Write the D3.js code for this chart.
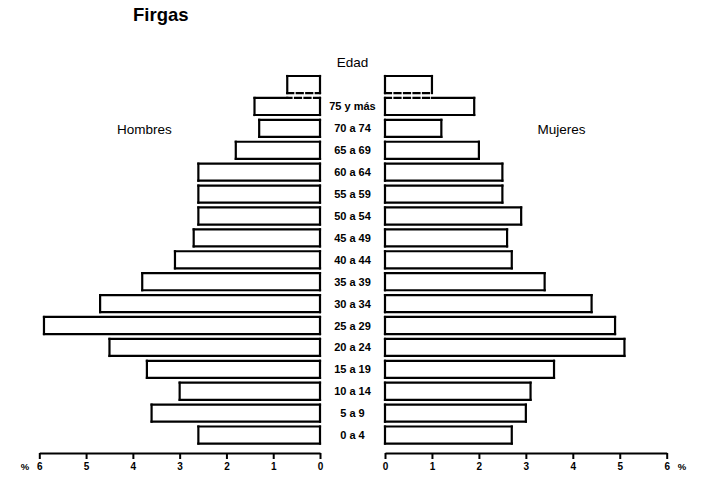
<!DOCTYPE html>
<html>
<head>
<meta charset="utf-8">
<script src="https://cdn.jsdelivr.net/npm/d3@7"></script>
<style>
  html, body { margin: 0; padding: 0; background: #fff; }
  svg { display: block; }
  text { font-family: "Liberation Sans", Arial, sans-serif; fill: #000; }
</style>
</head>
<body>
<svg id="chart" width="706" height="477"></svg>
<script>
// Age groups, bottom to top; the last, unlabeled row is the continuation box above "75 y más"
const ageGroups = ["0 a 4", "5 a 9", "10 a 14", "15 a 19", "20 a 24", "25 a 29", "30 a 34",
  "35 a 39", "40 a 44", "45 a 49", "50 a 54", "55 a 59", "60 a 64", "65 a 69", "70 a 74", "75 y más", ""];
const hombres = [2.6, 3.6, 3.0, 3.7, 4.5, 5.9, 4.7, 3.8, 3.1, 2.7, 2.6, 2.6, 2.6, 1.8, 1.3, 1.4, 0.7];
const mujeres = [2.7, 3.0, 3.1, 3.6, 5.1, 4.9, 4.4, 3.4, 2.7, 2.6, 2.9, 2.5, 2.5, 2.0, 1.2, 1.9, 1.0];
const tickValues = [0, 1, 2, 3, 4, 5, 6];
const minorTicks = [0.5, 1.5, 2.5, 3.5, 4.5, 5.5];
const title = "Firgas";

const svg = d3.select("#chart");
const rowKeys = ageGroups.map((d, i) => "r" + i);

const y = d3.scaleBand()
  .domain(rowKeys.slice().reverse())
  .range([73.6, 446])
  .paddingInner(0.22)
  .paddingOuter(0.11);

const xL = d3.scaleLinear().domain([0, 6]).range([320, 39.3]);
const xR = d3.scaleLinear().domain([0, 6]).range([385, 666.7]);

const bw = y.bandwidth();
const last = ageGroups.length - 1;      // top continuation box
const prev = last - 1;                  // "75 y más"

// Draw a bar outline as separate edges so some can be dashed
function drawBar(g, x0, x1, yTop, h, dashTopUntil, dashBottom) {
  const yb = yTop + h;
  const lo = Math.min(x0, x1), hi = Math.max(x0, x1);
  g.append("rect").attr("x", lo).attr("y", yTop).attr("width", hi - lo).attr("height", h)
    .attr("fill", "#fff").attr("stroke", "none");
  const line = (a, b, c, d, dash) => g.append("line")
    .attr("x1", a).attr("y1", b).attr("x2", c).attr("y2", d)
    .attr("stroke", "#000").attr("stroke-width", 2.2)
    .attr("stroke-linecap", "square")
    .attr("stroke-dasharray", dash ? "6,3.5" : null);
  line(lo, yTop, lo, yb, false);
  line(hi, yTop, hi, yb, false);
  line(lo, yb, hi, yb, dashBottom);
  if (dashTopUntil != null) {
    line(x0, yTop, dashTopUntil, yTop, true);
    line(dashTopUntil, yTop, x1, yTop, false);
  } else {
    line(lo, yTop, hi, yTop, false);
  }
}

const gBars = svg.append("g");
ageGroups.forEach((a, i) => {
  const yy = y("r" + i);
  const isTop = i === last;
  const isPrev = i === prev;
  drawBar(gBars, xL(0), xL(hombres[i]), yy, bw,
    isPrev ? xL(hombres[last]) : null, isTop);
  drawBar(gBars, xR(0), xR(mujeres[i]), yy, bw,
    isPrev ? xR(mujeres[last]) : null, isTop);
});

// Age labels
const midX = (xL(0) + xR(0)) / 2;
svg.append("g").selectAll("text")
  .data(ageGroups.map((a, i) => ({ a, k: "r" + i })).filter(d => d.a !== ""))
  .join("text")
  .attr("x", midX)
  .attr("y", d => y(d.k) + bw / 2 + 4)
  .attr("text-anchor", "middle")
  .attr("font-size", 11)
  .attr("font-weight", "bold")
  .text(d => d.a);

// Title and headers
svg.append("text").attr("x", 133).attr("y", 21).attr("font-size", 18.5)
  .attr("font-weight", "bold").text(title);
svg.append("text").attr("x", midX).attr("y", 67).attr("text-anchor", "middle")
  .attr("font-size", 13.5).text("Edad");
svg.append("text").attr("x", 144.5).attr("y", 134).attr("text-anchor", "middle")
  .attr("font-size", 13.5).text("Hombres");
svg.append("text").attr("x", 561.5).attr("y", 134).attr("text-anchor", "middle")
  .attr("font-size", 13.5).text("Mujeres");

// Axes
const axisY = 453;
function drawAxis(scale) {
  const g = svg.append("g").attr("transform", `translate(0,${axisY})`);
  g.call(d3.axisBottom(scale).tickValues(minorTicks).tickSize(4).tickSizeOuter(0).tickFormat(""));
  g.call(d3.axisBottom(scale).tickValues(tickValues).tickSize(6).tickSizeOuter(0).tickPadding(4)
    .tickFormat(d3.format("d")));
  g.selectAll("path.domain").attr("stroke-width", 2.2);
  g.selectAll(".tick line").attr("stroke-width", 2);
  g.selectAll(".tick text").attr("font-size", 10).attr("font-weight", "bold")
    .attr("font-family", "'Liberation Sans', Arial, sans-serif").attr("fill", "#000");
}
drawAxis(xL);
drawAxis(xR);
svg.append("text").attr("x", 25).attr("y", 470).attr("text-anchor", "middle")
  .attr("font-size", 9.5).attr("font-weight", "bold").text("%");
svg.append("text").attr("x", 682).attr("y", 470).attr("text-anchor", "middle")
  .attr("font-size", 9.5).attr("font-weight", "bold").text("%");
</script>
</body>
</html>
